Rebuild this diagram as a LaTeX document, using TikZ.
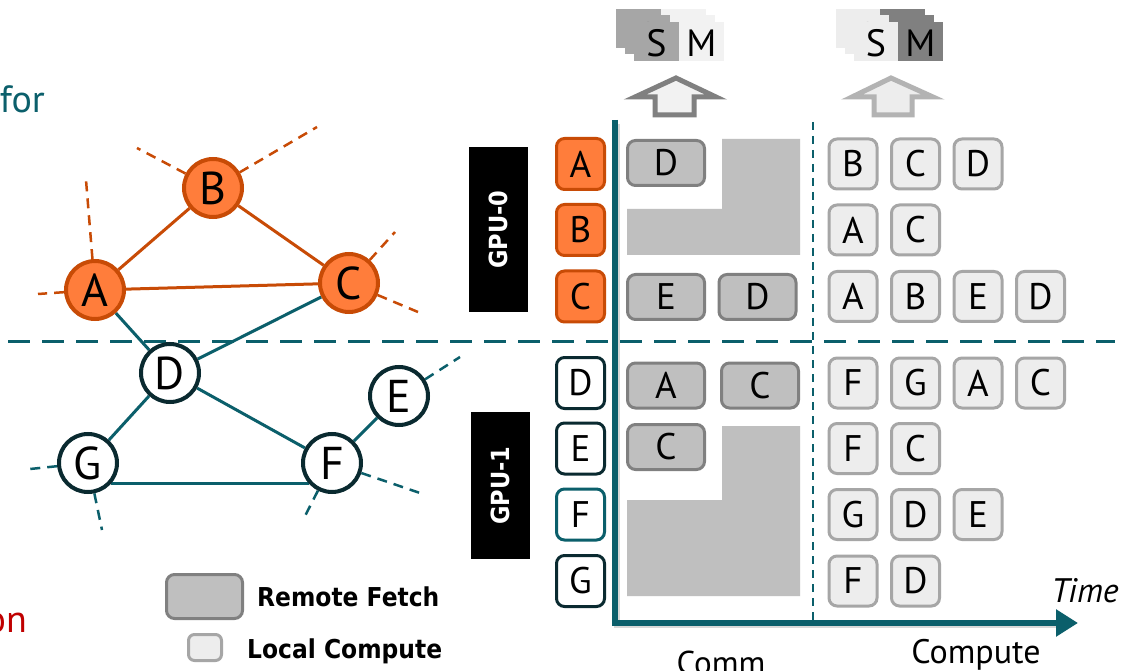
\documentclass[tikz,border=0pt]{standalone}
\usepackage{fontspec}
\setmainfont{PT Sans}
\newfontfamily\boldsans[FakeStretch=0.9]{DejaVu Sans}
\usetikzlibrary{arrows.meta,backgrounds}

\definecolor{orfill}{HTML}{FF7D3B}
\definecolor{orline}{HTML}{C84B06}
\definecolor{tealc}{HTML}{0B5F6B}
\definecolor{darkline}{HTML}{0A2A30}
\definecolor{fetchfill}{HTML}{BFBFBF}
\definecolor{fetchline}{HTML}{808080}
\definecolor{compfill}{HTML}{EDEDED}
\definecolor{compline}{HTML}{A6A6A6}
\definecolor{lightfill}{HTML}{F2F2F2}
\definecolor{redtext}{HTML}{C00000}

\newcommand\fsz[1]{\fontsize{#1}{#1}\selectfont}

\tikzset{
  gnode/.style={circle, minimum size=58, inner sep=0, line width=4, font=\fsz{46}},
  onode/.style={gnode, fill=orfill, draw=orline},
  tnode/.style={gnode, fill=white, draw=darkline},
  oedge/.style={draw=orline, line width=3},
  tedge/.style={draw=tealc, line width=3},
  ostub/.style={draw=orline, line width=2.5, dash pattern=on 10 off 7},
  tstub/.style={draw=tealc, line width=2.5, dash pattern=on 10 off 7},
  vbox/.style={rectangle, rounded corners=8, minimum width=48, minimum height=51,
    inner sep=0, line width=3, font=\fsz{37}},
  vorange/.style={vbox, fill=orfill, draw=orline},
  vwhite/.style={vbox, fill=white, draw=darkline},
  fetch/.style={rectangle, rounded corners=8, minimum width=77, minimum height=45,
    inner sep=0, line width=3, fill=fetchfill, draw=fetchline, font=\fsz{37}},
  comp/.style={rectangle, rounded corners=8, minimum width=48, minimum height=50,
    inner sep=0, line width=3, fill=compfill, draw=compline, font=\fsz{37}},
  gpulabel/.style={rectangle, fill=black, text=white, inner sep=0, rotate=90,
    font=\boldsans\fsz{25}\bfseries},
  legendtext/.style={anchor=west, inner sep=0, font=\boldsans\fsz{26}\bfseries},
  icontext/.style={font=\fsz{38}, inner sep=0},
  blockarrow/.style={line width=5, miter limit=10},
}

\begin{document}
\begin{tikzpicture}[x=1pt, y=-1pt]
\useasboundingbox (0,0) rectangle (1128,671);

% ---------- graph nodes ----------
\node[onode] (A) at (95,290) {A};
\node[onode] (B) at (213,188) {B};
\node[onode] (C) at (349,283) {C};
\node[tnode] (D) at (170,373) {D};
\node[tnode] (E) at (399,396) {E};
\node[tnode] (F) at (332,463) {F};
\node[tnode] (G) at (88,463) {G};

% loose ends of edges leaving the partition
\coordinate (sA1) at (86,180);
\coordinate (sA2) at (38,294);
\coordinate (sB1) at (137,148);
\coordinate (sB2) at (317,127);
\coordinate (sC1) at (395,232);
\coordinate (sC2) at (418,312);
\coordinate (sE1) at (460,357);
\coordinate (sG1) at (30,469);
\coordinate (sG2) at (102,530);
\coordinate (sF1) at (420,493);
\coordinate (sF2) at (303,520);

% partition line
\coordinate (pl) at (8,341);
\coordinate (pr) at (1115,341);

\begin{scope}[on background layer]
  \fill[white] (0,0) rectangle (1128,671);
  \draw[tealc, line width=3, dash pattern=on 22 off 12] (pl) -- (pr);
  \draw[oedge] (A) -- (B);
  \draw[oedge] (B) -- (C);
  \draw[oedge] (A) -- (C);
  \draw[tedge] (A) -- (D);
  \draw[tedge] (C) -- (D);
  \draw[tedge] (D) -- (G);
  \draw[tedge] (D) -- (F);
  \draw[tedge] (G.-42) -- (F.-138);
  \draw[tedge] (F) -- (E);
  \draw[ostub] (A) -- (sA1);
  \draw[ostub] (A) -- (sA2);
  \draw[ostub] (B) -- (sB1);
  \draw[ostub] (B) -- (sB2);
  \draw[ostub] (C) -- (sC1);
  \draw[ostub] (C) -- (sC2);
  \draw[tstub] (E) -- (sE1);
  \draw[tstub] (G) -- (sG1);
  \draw[tstub] (G) -- (sG2);
  \draw[tstub] (F) -- (sF1);
  \draw[tstub] (F) -- (sF2);
\end{scope}

% ---------- side texts ----------
\node[anchor=base east, inner sep=0, text=tealc, font=\fsz{38}] (fortext) at (45,113) {for};
\node[anchor=base east, inner sep=0, text=redtext, font=\fsz{38}] (ontext) at (27,632) {on};

% ---------- GPU labels ----------
\node[gpulabel, minimum width=165, minimum height=59] (gpu0) at (498.5,229.5) {GPU-0};
\node[gpulabel, minimum width=147, minimum height=59] (gpu1) at (500.5,485.5) {GPU-1};

% ---------- vertex column ----------
\node[vorange] (vA) at (580.5,164) {A};
\node[vorange] (vB) at (580.5,230) {B};
\node[vorange] (vC) at (580.5,296.5) {C};
\node[vwhite]  (vD) at (580.5,383) {D};
\node[vwhite]  (vE) at (580.5,448.5) {E};
\node[vbox, fill=white, draw=tealc] (vF) at (580.5,514.5) {F};
\node[vwhite]  (vG) at (580.5,581) {G};

% ---------- time axes ----------
\coordinate (axtop) at (615,120);
\coordinate (axorg) at (615,623);
\coordinate (axend) at (1078,623);
\draw[black!25, line width=6, opacity=0.6, shift={(2,2)}] (615,122) -- (615,623) -- (1055,623);
\draw[tealc, dash pattern=on 8 off 6, line width=2] (813,122) -- (813,620);
\draw[tealc, line width=6, miter limit=10, -{Triangle[length=22pt,width=26pt]}]
  (axtop) -- (axorg) -- (axend);

% ---------- remote fetch ----------
\fill[fetchfill] (722,139) -- (800,139) -- (800,255) -- (627,255) -- (627,209) -- (722,209) -- cycle;
\fill[fetchfill] (722,426) -- (800,426) -- (800,596) -- (627,596) -- (627,500) -- (722,500) -- cycle;
\node[fetch] (fA1) at (666,163) {D};
\node[fetch] (fC1) at (666,297) {E};
\node[fetch] (fC2) at (757.5,297) {D};
\node[fetch] (fD1) at (666,385.5) {A};
\node[fetch] (fD2) at (760,385.5) {C};
\node[fetch] (fE1) at (666,447) {C};

% ---------- local compute ----------
\foreach \yy/\lst [count=\r] in {164/{B,C,D}, 230/{A,C}, 296.5/{A,B,E,D},
    383/{F,G,A,C}, 448.5/{F,C}, 514.5/{G,D,E}, 581/{F,D}} {
  \foreach \t [count=\i] in \lst {
    \node[comp] (cmp\r\i) at ({790.5+62.5*\i},\yy) {\t};
  }
}

% ---------- stacked S/M icons ----------
\foreach \k in {0,1,2} {
  \begin{scope}[shift={(9*\k,6.5*\k)}]
    \fill[fetchline!70] (616,9) rectangle (661,48);
    \fill[lightfill] (661,9) rectangle (706,48);
    \node[icontext] (sl\k) at (638.5,30) {S};
    \node[icontext] (ml\k) at (683.5,30) {M};
    \fill[compfill] (836,9) rectangle (880,48);
    \fill[fetchline] (880,9) rectangle (925,48);
    \node[icontext] (sr\k) at (858,30) {S};
    \node[icontext] (mr\k) at (902.5,30) {M};
  \end{scope}
}

% ---------- block arrows ----------
\filldraw[blockarrow, draw=fetchline, fill=lightfill]
  (676,78) -- (716,97) -- (694,97) -- (694,115) -- (655,115) -- (655,97) -- (635,97) -- cycle;
\filldraw[blockarrow, draw=compline!85, fill=compfill]
  (891,78) -- (933,97) -- (912,97) -- (912,115) -- (874,115) -- (874,97) -- (852,97) -- cycle;

% ---------- axis labels ----------
\node[font=\fsz{34}\itshape, inner sep=0] (timelbl) at (1085,591) {Time};
\node[font=\fsz{33}, inner sep=0, anchor=base] (commlbl) at (721,674) {Comm};
\node[font=\fsz{34}, inner sep=0, anchor=base] (complbl) at (976,663) {Compute};

% ---------- legend ----------
\node[fetch, minimum width=76, minimum height=44] (legF) at (204.5,596.5) {};
\node[comp, minimum width=33, minimum height=26, rounded corners=6] (legC) at (205,647.5) {};
\node[legendtext] (legFt) at (257,597) {Remote Fetch};
\node[legendtext] (legCt) at (247,651) {Local Compute};

\end{tikzpicture}
\end{document}
